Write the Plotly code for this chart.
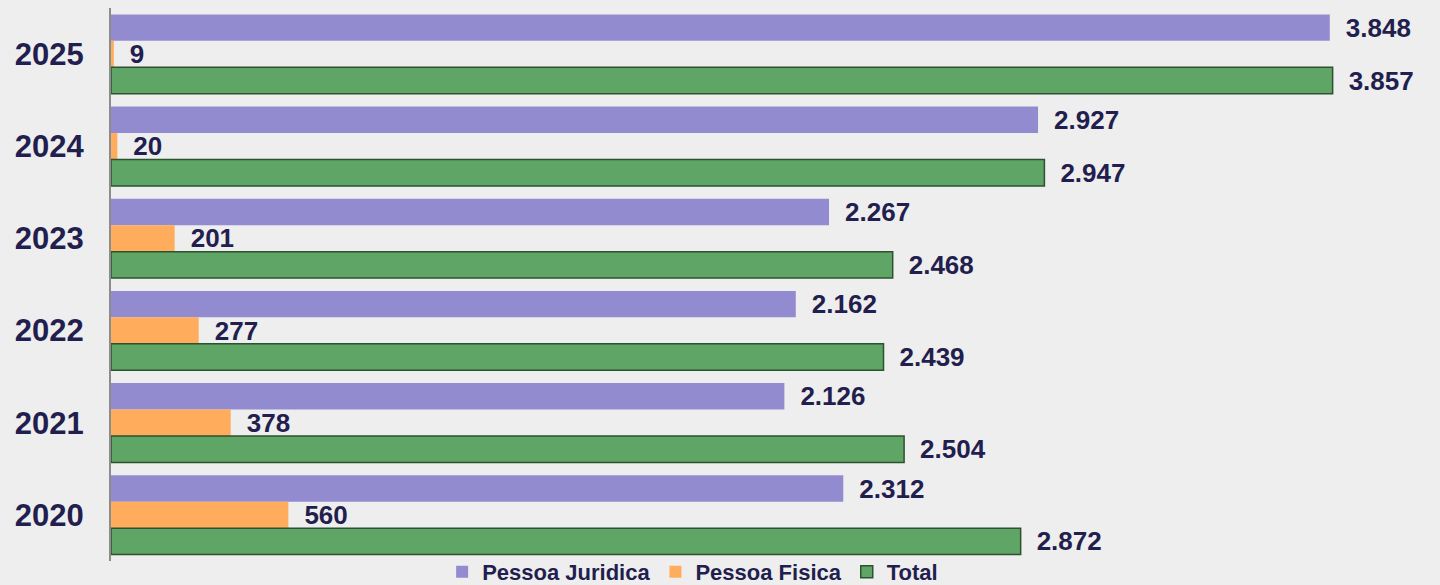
import plotly.graph_objects as go

years = ["2020", "2021", "2022", "2023", "2024", "2025"]
pessoa_juridica = [2312, 2126, 2162, 2267, 2927, 3848]
pessoa_fisica = [560, 378, 277, 201, 20, 9]
total = [2872, 2504, 2439, 2468, 2947, 3857]

TXT = "#221E4E"
FONT = "Liberation Sans, Arial, sans-serif"

fig = go.Figure()
series = [
    ("Pessoa Juridica", pessoa_juridica, "#938BCF", "#938BCF", 0),
    ("Pessoa Fisica", pessoa_fisica, "#FFAD5C", "#FFAD5C", 0),
    ("Total", total, "#5FA565", "#2C5230", 1.5),
]
for name, vals, col, lcol, lw in series:
    fig.add_trace(go.Bar(
        name=name, y=years, x=vals, orientation="h",
        marker=dict(color=col, line=dict(color=lcol, width=lw)),
        texttemplate="\u2002%{x:,}", textposition="outside",
        constraintext="none", cliponaxis=False,
        textfont=dict(family=FONT, size=26, color=TXT, weight="bold"),
        hoverinfo="skip",
    ))

fig.update_layout(
    width=1440, height=585,
    barmode="group", bargap=0.14, bargroupgap=0,
    separators=",.",
    paper_bgcolor="#EEEEEE", plot_bgcolor="#EEEEEE",
    margin=dict(l=111, r=0, t=8, b=24, autoexpand=False),
    font=dict(family=FONT, color=TXT),
    xaxis=dict(visible=False, range=[0, 4196], fixedrange=True),
    yaxis=dict(
        type="category", categoryorder="category descending", autorange="reversed",
        showline=True, linecolor="#8C8C8C", linewidth=2, showgrid=False,
        ticks="", ticklabelstandoff=19, automargin=False, fixedrange=True,
        tickfont=dict(family=FONT, size=31, color=TXT, weight="bold"),
    ),
    legend=dict(
        orientation="h", xref="container", yref="paper",
        x=0.481, xanchor="center", y=-0.058, yanchor="bottom",
        font=dict(family=FONT, size=22, color=TXT, weight="bold"),
        bgcolor="rgba(0,0,0,0)", itemwidth=30,
    ),
    showlegend=True,
)

fig.write_html(
    "out.html",
    config={"displayModeBar": False},
    post_script="document.body.style.margin='0';document.body.style.background='#EEEEEE';document.body.style.overflow='hidden';",
)
